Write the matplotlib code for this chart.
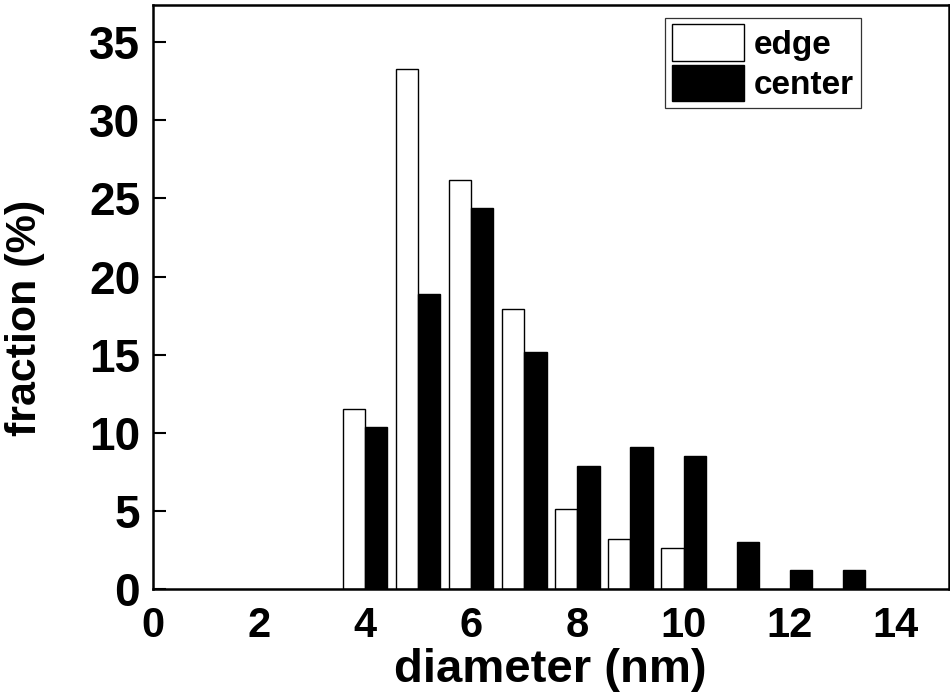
import matplotlib

matplotlib.use("Agg")
import matplotlib.pyplot as plt
import numpy as np

# particle size distribution, fraction in percent per 1 nm bin
edge_diam = [4, 5, 6, 7, 8, 9, 10]
edge_frac = [11.5, 33.3, 26.2, 17.9, 5.1, 3.2, 2.6]
center_diam = [4, 5, 6, 7, 8, 9, 10, 11, 12, 13]
center_frac = [10.4, 18.9, 24.4, 15.2, 7.9, 9.1, 8.5, 3.0, 1.2, 1.2]

x_ticks = [0, 2, 4, 6, 8, 10, 12, 14]
y_ticks = [0, 5, 10, 15, 20, 25, 30, 35]

plt.rcParams["font.family"] = ["Liberation Sans", "DejaVu Sans"]
plt.rcParams["font.weight"] = "bold"

fig = plt.figure(figsize=(9.5, 7), dpi=100)
ax = fig.add_axes([0.1607, 0.1586, 0.8382, 0.8347])

width = 0.42
ax.bar(np.array(edge_diam), edge_frac, width=-width, align="edge",
       color="white", edgecolor="black", linewidth=1.0, label="edge")
ax.bar(np.array(center_diam), center_frac, width=width, align="edge",
       color="black", edgecolor="black", linewidth=1.0, label="center")

ax.set_xlim(0, 15)
ax.set_ylim(0, 37.4)
ax.set_xticks(x_ticks)
ax.set_yticks(y_ticks)

ax.tick_params(axis="x", length=0, pad=12, labelsize=30)
ax.tick_params(axis="y", direction="in", length=9, width=1.5, pad=9, labelsize=33)
for lbl in ax.get_xticklabels() + ax.get_yticklabels():
    lbl.set_fontweight("bold")

for side in ax.spines.values():
    side.set_linewidth(1.8)

ax.set_xlabel("diameter (nm)", fontsize=34, fontweight="bold", labelpad=2)
ax.set_ylabel("fraction (%)", fontsize=31, fontweight="bold")
ax.yaxis.set_label_coords(-0.135, 0.464)

leg = ax.legend(loc="upper left", bbox_to_anchor=(0.6435, 0.978),
                prop={"size": 24, "weight": "bold"}, frameon=True, fancybox=False,
                handlelength=2.16, handleheight=1.3, labelspacing=0.12,
                handletextpad=0.3, borderpad=0.2, borderaxespad=0)
leg.get_frame().set_edgecolor("black")
leg.get_frame().set_linewidth(0.9)

fig.savefig("out.png", dpi=100)
